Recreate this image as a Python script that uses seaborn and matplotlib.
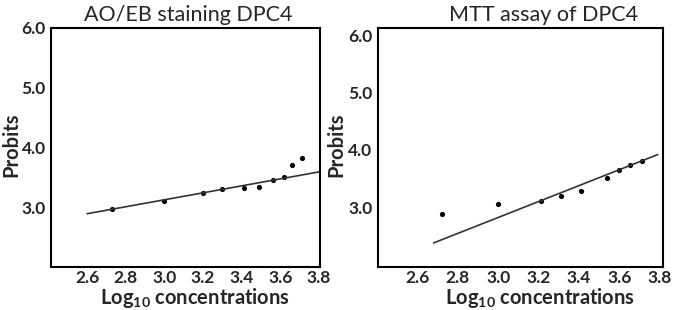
import matplotlib
matplotlib.use("Agg")
import matplotlib.pyplot as plt
import seaborn as sns

# AO/EB staining panel
aoeb_logc = [2.73, 3.00, 3.20, 3.30, 3.41, 3.49, 3.56, 3.62, 3.66, 3.71]
aoeb_probit = [2.97, 3.10, 3.24, 3.31, 3.32, 3.33, 3.45, 3.50, 3.70, 3.83]
aoeb_fit_x = [2.60, 3.80]
aoeb_fit_y = [2.89, 3.59]

# MTT assay panel
mtt_logc = [2.72, 3.00, 3.21, 3.31, 3.41, 3.54, 3.60, 3.65, 3.71]
mtt_probit = [2.88, 3.05, 3.11, 3.19, 3.28, 3.50, 3.65, 3.74, 3.81]
mtt_fit_x = [2.68, 3.79]
mtt_fit_y = [2.37, 3.92]

titles = ["AO/EB staining DPC4", "MTT assay of DPC4"]
x_ticks = [2.6, 2.8, 3.0, 3.2, 3.4, 3.6, 3.8]
y_ticks = [3.0, 4.0, 5.0, 6.0]

sns.set_style("white")
plt.rcParams["font.family"] = ["Lato", "DejaVu Sans"]

fig = plt.figure(figsize=(6.75, 3.1), dpi=100)
ax1 = fig.add_axes([0.076, 0.139, 0.398, 0.771])
ax2 = fig.add_axes([0.560, 0.139, 0.422, 0.771])

panels = [
    # axes, x, y, fit x, fit y, xlim, ylim, y tick length, title x, xlabel x
    (ax1, aoeb_logc, aoeb_probit, aoeb_fit_x, aoeb_fit_y,
     (2.415, 3.805), (2.0, 6.0), 9, 0.51, 0.535),
    (ax2, mtt_logc, mtt_probit, mtt_fit_x, mtt_fit_y,
     (2.405, 3.815), (1.95, 6.14), 6, 0.58, 0.57),
]

for i, (ax, xs, ys, fx, fy, xl, yl, ylen, tx, lx) in enumerate(panels):
    sns.lineplot(x=fx, y=fy, ax=ax, color="#333333", linewidth=1.2)
    sns.scatterplot(x=xs, y=ys, ax=ax, color="black", s=14, linewidth=0)
    ax.set_xlim(*xl)
    ax.set_ylim(*yl)
    ax.set_xticks(x_ticks)
    ax.set_yticks(y_ticks)
    ax.set_xticklabels([f"{t:.1f}" for t in x_ticks], fontweight="bold",
                       fontsize=12.5)
    ax.set_yticklabels([f"{t:.1f}" for t in y_ticks], fontweight="bold",
                       fontsize=12.5)
    ax.tick_params(axis="x", direction="in", length=6, width=1.5, pad=2)
    ax.tick_params(axis="y", direction="in", length=ylen, width=1.5, pad=4)
    for sp in ax.spines.values():
        sp.set_visible(True)
        sp.set_color("black")
        sp.set_linewidth(1.5)
    ax.set_title(titles[i], fontsize=15.5, pad=5, x=tx)
    ax.set_ylabel("Probits", fontsize=14.5, fontweight="bold")
    ax.set_xlabel(r"Log$_{\mathregular{10}}$ concentrations", fontsize=14.5,
                  fontweight="bold")
    ax.yaxis.set_label_coords(-0.11, 0.51)
    ax.xaxis.set_label_coords(lx, -0.08)

fig.savefig("out.png", dpi=100)
